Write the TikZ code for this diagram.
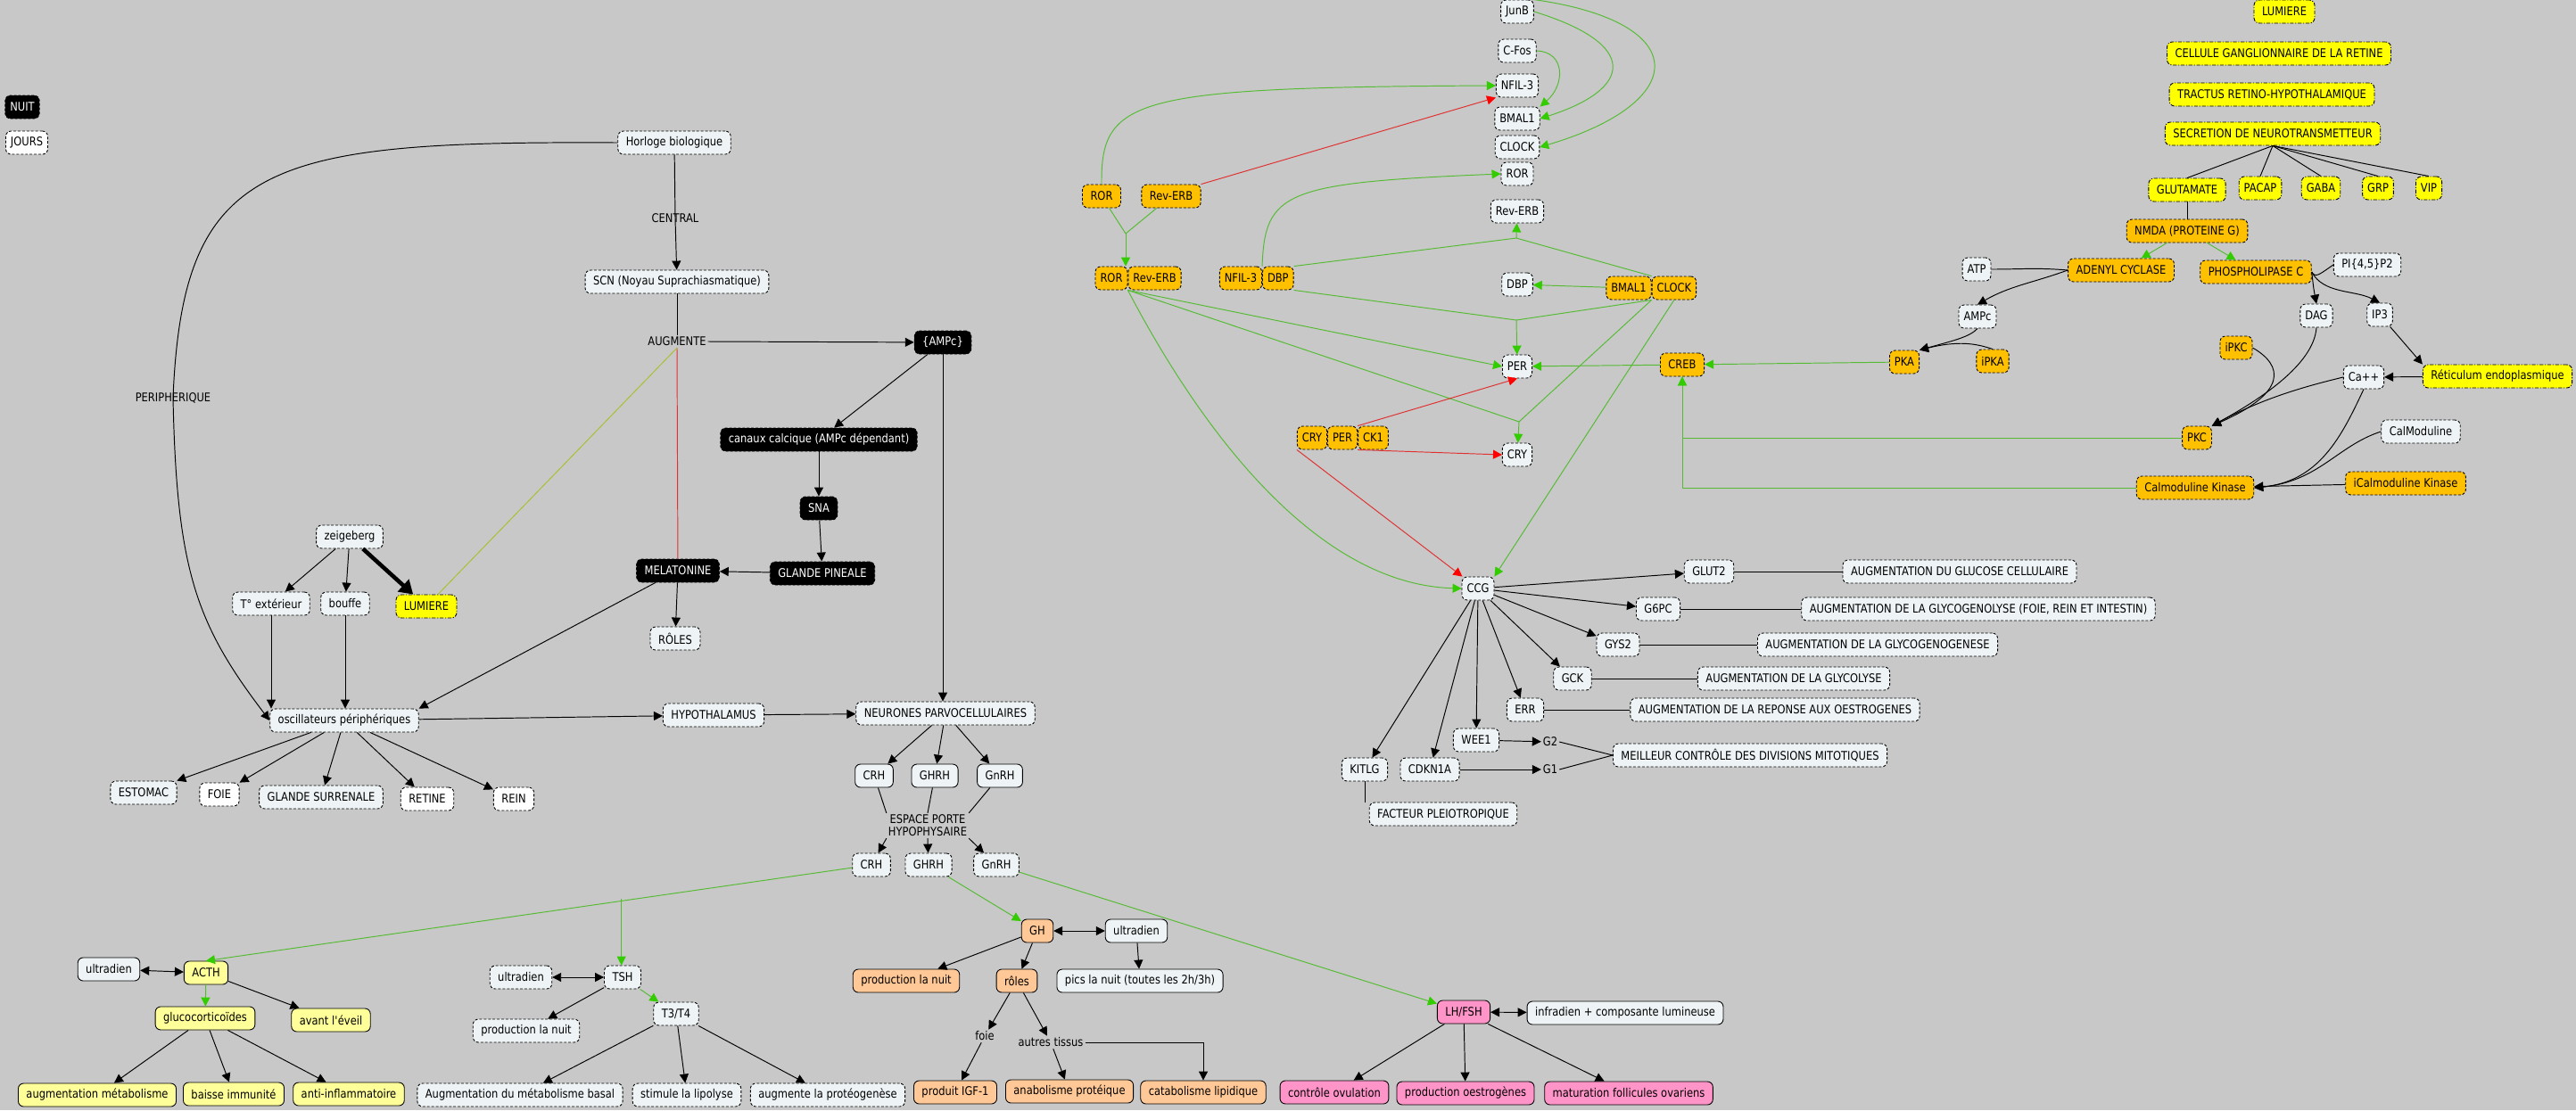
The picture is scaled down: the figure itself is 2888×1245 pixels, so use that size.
\documentclass[tikz,border=0pt]{standalone}
\usepackage{fontspec}
\setmainfont{DejaVu Sans}[FakeStretch=0.86]
\usetikzlibrary{arrows.meta, positioning, calc}
\definecolor{mapGray}{HTML}{C8C8C8}
\definecolor{mapWhite}{HTML}{EEF3F5}
\definecolor{mapYellow}{HTML}{FFFF00}
\definecolor{mapOrange}{HTML}{FFC000}
\definecolor{mapPale}{HTML}{FFFF99}
\definecolor{mapPeach}{HTML}{FFC896}
\definecolor{mapPink}{HTML}{FF94C8}
\definecolor{lineGreen}{HTML}{55BB33}
\definecolor{tipGreen}{HTML}{33CC00}
\definecolor{lineRed}{HTML}{E03030}
\definecolor{tipRed}{HTML}{FF0000}
\definecolor{lineYG}{HTML}{A8C030}
\tikzset{
  boxW/.style={rectangle, rounded corners=0.12cm, draw=black, line width=0.5pt,
               fill=mapWhite, dash pattern=on 1.7pt off 1.1pt,
               minimum height=0.52cm, inner xsep=0.18cm, inner ysep=0pt},
  boxK/.style={boxW, fill=black, text=white},
  boxY/.style={boxW, fill=mapYellow, dash pattern=on 2.4pt off 1pt on 0.6pt off 1pt},
  boxO/.style={boxW, fill=mapOrange},
  boxS/.style={boxW, solid},
  boxPale/.style={boxS, fill=mapPale},
  boxPeach/.style={boxS, fill=mapPeach},
  boxPink/.style={boxS, fill=mapPink},
  tight/.style={inner xsep=0.11cm},
  lbl/.style={inner sep=1pt},
  arrowK/.style={-{Triangle[length=2mm,width=2mm]}, line width=0.55pt},
  arrowD/.style={{Triangle[length=2mm,width=2mm]}-{Triangle[length=2mm,width=2mm]},
                 line width=0.55pt},
  arrowG/.style={-{Triangle[length=2mm,width=2mm,color=tipGreen]}, draw=lineGreen,
                 line width=0.55pt},
  arrowR/.style={-{Triangle[length=2mm,width=2mm,color=tipRed]}, draw=lineRed,
                 line width=0.55pt},
  lineK/.style={line width=0.55pt},
  lineG/.style={draw=lineGreen, line width=0.55pt},
  lineR/.style={draw=lineRed, line width=0.55pt},
  lineY/.style={draw=lineYG, line width=0.55pt},
}
\begin{document}
\begin{tikzpicture}[x=0.02cm, y=-0.02cm, font=\fontsize{7.6}{8.4}\selectfont]
    \fill[mapGray] (0,0) rectangle (2888,1245);
    \useasboundingbox (0,0) rectangle (2888,1245);
    % legende
    \node[boxK, tight] (nuit) at (25,120) {NUIT};
    \node[boxW, tight, fill=white] (jours) at (30,160) {JOURS};
    % horloge centrale
    \node[boxW] (horloge) at (756,160) {Horloge biologique};
    \node[boxW] (scn) at (759,316) {SCN (Noyau Suprachiasmatique)};
    \node[lbl] (central) at (757,245) {CENTRAL};
    \node[lbl] (augm) at (759,383) {AUGMENTE};
    \node[lbl] (periph) at (194,446) {PERIPHERIQUE};
    \node[boxK] (ampc) at (1057,384) {\{AMPc\}};
    \node[boxK] (canaux) at (918,493) {canaux calcique (AMPc dépendant)};
    \node[boxK] (sna) at (918,570) {SNA};
    \node[boxK] (pineale) at (922,643) {GLANDE PINEALE};
    \node[boxK] (melat) at (760,640) {MELATONINE};
    \node[boxW] (roles) at (757,716) {RÔLES};
    % horloges peripheriques
    \node[boxW] (zeig) at (392,602) {zeigeberg};
    \node[boxW] (temp) at (304,677) {T° extérieur};
    \node[boxW] (bouffe) at (387,677) {bouffe};
    \node[boxY] (lumL) at (478,680) {LUMIERE};
    \node[boxW] (oscP) at (386,808) {oscillateurs périphériques};
    \foreach \n/\x/\y/\t/\f in {estomac/161/889/ESTOMAC/mapWhite, foie/246/891/FOIE/white,
        surren/360/894/GLANDE SURRENALE/mapWhite, retine/479/896/RETINE/white, rein/576/896/REIN/white} {
      \node[boxW, fill=\f] (\n) at (\x,\y) {\t};
    }
    \node[boxW] (hypo) at (800,802) {HYPOTHALAMUS};
    \node[boxW] (parvo) at (1060,800) {NEURONES PARVOCELLULAIRES};
    % neurohormones
    \foreach \n/\x/\t in {crhA/980/CRH, ghrhA/1048/GHRH, gnrhA/1121/GnRH} {
      \node[boxS] (\n) at (\x,870) {\t};
    }
    \node[lbl, align=center, font=\fontsize{7.6}{8}\selectfont] (espace) at (1040,926) {ESPACE PORTE\\HYPOPHYSAIRE};
    \foreach \n/\x/\t in {crhB/977/CRH, ghrhB/1041/GHRH, gnrhB/1117/GnRH} {
      \node[boxW] (\n) at (\x,970) {\t};
    }
    % axe corticotrope
    \node[boxPale] (acth) at (231,1091) {ACTH};
    \node[boxS] (ultraA) at (122,1087) {ultradien};
    \node[boxPale] (gluco) at (230,1142) {glucocorticoïdes};
    \node[boxPale] (eveil) at (371,1144) {avant l\textquotesingle éveil};
    \node[boxPale] (augMet) at (109,1228) {augmentation métabolisme};
    \node[boxPale] (immun) at (262,1227) {baisse immunité};
    \node[boxPale] (antiInf) at (391,1227) {anti-inflammatoire};
    % axe thyreotrope
    \node[boxW] (tsh) at (698,1096) {TSH};
    \node[boxW] (ultraT) at (584,1096) {ultradien};
    \node[boxW] (nuitT) at (590,1156) {production la nuit};
    \node[boxW] (t3t4) at (758,1137) {T3/T4};
    \node[boxW] (metBasal) at (583,1228) {Augmentation du métabolisme basal};
    \node[boxW] (lipo) at (770,1228) {stimule la lipolyse};
    \node[boxW] (proteo) at (928,1228) {augmente la protéogenèse};
    % axe somatotrope
    \node[boxPeach] (gh) at (1163,1044) {GH};
    \node[boxS] (ultraG) at (1274,1044) {ultradien};
    \node[boxS] (pics) at (1278,1100) {pics la nuit (toutes les 2h/3h)};
    \node[boxPeach] (nuitG) at (1016,1100) {production la nuit};
    \node[boxPeach] (rolesG) at (1140,1100) {rôles};
    \node[lbl] (foieL) at (1104,1162) {foie};
    \node[lbl] (autres) at (1178,1169) {autres tissus};
    \node[boxPeach] (igf) at (1071,1225) {produit IGF-1};
    \node[boxPeach] (anab) at (1199,1224) {anabolisme protéique};
    \node[boxPeach] (catab) at (1349,1225) {catabolisme lipidique};
    % axe gonadotrope
    \node[boxPink] (lhfsh) at (1641,1135) {LH/FSH};
    \node[boxS] (infra) at (1822,1136) {infradien + composante lumineuse};
    \node[boxPink] (ovul) at (1496,1225) {contrôle ovulation};
    \node[boxPink] (oestro) at (1643,1226) {production oestrogènes};
    \node[boxPink] (follic) at (1826,1226) {maturation follicules ovariens};
    % genes horloge
    \node[boxO] (ror1) at (1235,220) {ROR};
    \node[boxO] (reverb1) at (1313,220) {Rev-ERB};
    \node[boxO, tight] (ror2) at (1246,312) {ROR};
    \node[boxO, tight, right=0pt of ror2] (reverb2) {Rev-ERB};
    \node[boxO, tight] (nfil2) at (1391,312) {NFIL-3};
    \node[boxO, tight, right=0pt of nfil2] (dbp2) {DBP};
    \foreach \n/\y/\t in {junb/13/JunB, cfos/57/C-Fos, nfilW/96/NFIL-3, bmalW/133/BMAL1,
        clockW/165/CLOCK, rorW/195/ROR, reverbW/237/Rev-ERB, dbpW/319/DBP, perW/411/PER, cryW/510/CRY} {
      \node[boxW, tight] (\n) at (1701,\y) {\t};
    }
    \node[boxO, tight] (bmal2) at (1826,323) {BMAL1};
    \node[boxO, tight, right=0pt of bmal2] (clock2) {CLOCK};
    \node[boxO] (creb) at (1886,409) {CREB};
    \node[boxO, tight] (pka) at (2135,406) {PKA};
    \node[boxO, tight] (ipka) at (2234,405) {iPKA};
    \node[boxO, tight] (cry3) at (1471,491) {CRY};
    \node[boxO, tight, right=0pt of cry3] (per3) {PER};
    \node[boxO, tight, right=0pt of per3] (ck1) {CK1};
    % genes controles
    \node[boxW, tight] (ccg) at (1657,660) {CCG};
    \node[boxW] (glut2) at (1916,641) {GLUT2};
    \node[boxW] (g6pc) at (1859,683) {G6PC};
    \node[boxW] (gys2) at (1814,723) {GYS2};
    \node[boxW] (gck) at (1763,761) {GCK};
    \node[boxW] (err) at (1710,796) {ERR};
    \node[boxW] (wee1) at (1655,830) {WEE1};
    \node[boxW] (cdkn) at (1603,863) {CDKN1A};
    \node[boxW] (kitlg) at (1530,863) {KITLG};
    \node[lbl] (g2) at (1738,832) {G2};
    \node[lbl] (g1) at (1738,863) {G1};
    \node[boxW] (mitose) at (1962,847) {MEILLEUR CONTRÔLE DES DIVISIONS MITOTIQUES};
    \node[boxW] (pleio) at (1618,913) {FACTEUR PLEIOTROPIQUE};
    \node[boxW] (augGlu) at (2197,641) {AUGMENTATION DU GLUCOSE CELLULAIRE};
    \node[boxW] (augGlyco) at (2218,683) {AUGMENTATION DE LA GLYCOGENOLYSE (FOIE, REIN ET INTESTIN)};
    \node[boxW] (augGlycoGen) at (2105,723) {AUGMENTATION DE LA GLYCOGENOGENESE};
    \node[boxW] (augGlycol) at (2011,761) {AUGMENTATION DE LA GLYCOLYSE};
    \node[boxW] (augOestro) at (1990,796) {AUGMENTATION DE LA REPONSE AUX OESTROGENES};
    % voie lumineuse
    \node[boxY] (lumR) at (2561,13) {LUMIERE};
    \node[boxY] (cellule) at (2555,60) {CELLULE GANGLIONNAIRE DE LA RETINE};
    \node[boxY] (tractus) at (2547,106) {TRACTUS RETINO-HYPOTHALAMIQUE};
    \node[boxY] (secretion) at (2548,150) {SECRETION DE NEUROTRANSMETTEUR};
    \node[boxY] (gluta) at (2452,213) {GLUTAMATE};
    \foreach \n/\x/\t in {pacap/2534/PACAP, gaba/2602/GABA, grp/2666/GRP, vip/2723/VIP} {
      \node[boxY, tight] (\n) at (\x,211) {\t};
    }
    \node[boxO] (nmda) at (2452,259) {NMDA (PROTEINE G)};
    \node[boxO] (adc) at (2378,303) {ADENYL CYCLASE};
    \node[boxO] (plc) at (2529,305) {PHOSPHOLIPASE C};
    \node[boxW, tight] (atp) at (2216,302) {ATP};
    \node[boxW, tight] (ampcR) at (2217,355) {AMPc};
    \node[boxW] (pip2) at (2654,297) {PI\{4,5\}P2};
    \node[boxW, tight] (dag) at (2597,354) {DAG};
    \node[boxW, tight] (ip3) at (2668,353) {IP3};
    \node[boxO, tight] (ipkc) at (2507,390) {iPKC};
    \node[boxY] (reti) at (2800,422) {Réticulum endoplasmique};
    \node[boxW, tight] (ca) at (2650,423) {Ca++};
    \node[boxO, tight] (pkc) at (2463,491) {PKC};
    \node[boxW] (calmod) at (2714,484) {CalModuline};
    \node[boxO] (camk) at (2461,547) {Calmoduline Kinase};
    \node[boxO] (icamk) at (2697,542) {iCalmoduline Kinase};

    % liens horloge centrale
    \draw[arrowK] (horloge) -- (central.center) -- (scn);
    \draw[lineK] (scn) -- (augm.north);
    \draw[arrowK] (augm.east) -- (ampc);
    \draw[lineR] (augm.south) -- (melat);
    \draw[lineY] (augm.south) -- (lumL);
    \draw[arrowK] (horloge.west) .. controls (300,158) and (205,180) .. (periph.center)
      .. controls (198,640) and (220,700) .. (oscP.west);
    \draw[arrowK] (ampc) -- (canaux);
    \draw[arrowK] (ampc.south) -- (ampc.south |- parvo.north);
    \draw[arrowK] (canaux) -- (sna);
    \draw[arrowK] (sna) -- (pineale);
    \draw[arrowK] (pineale) -- (melat);
    \draw[arrowK] (melat) -- (roles);
    \draw[arrowK] (melat) -- (oscP.north east);
    % liens peripherie
    \draw[arrowK] (zeig) -- (temp);
    \draw[arrowK] (zeig) -- (bouffe);
    \draw[-{Triangle[length=3mm,width=3.6mm]}, line width=2.6pt] (zeig) -- (lumL);
    \draw[arrowK] (temp.south) -- (temp.south |- oscP.north);
    \draw[arrowK] (bouffe.south) -- (bouffe.south |- oscP.north);
    \foreach \n in {estomac, foie, surren, retine, rein} { \draw[arrowK] (oscP) -- (\n); }
    \draw[arrowK] (oscP) -- (hypo);
    \draw[arrowK] (hypo) -- (parvo);
    \foreach \n in {crhA, ghrhA, gnrhA} { \draw[arrowK] (parvo) -- (\n); }
    \draw[lineK] (crhA) -- (espace.north west);
    \draw[lineK] (ghrhA) -- (espace.north);
    \draw[lineK] (gnrhA) -- (espace.north east);
    \draw[arrowK] (espace.south west) -- (crhB);
    \draw[arrowK] (espace.south) -- (ghrhB);
    \draw[arrowK] (espace.south east) -- (gnrhB);
    % hormones hypophysaires
    \draw[arrowG] (crhB) -- (acth.north);
    \path (crhB.west) -- (acth.north) coordinate[pos=0.357] (jtsh);
    \draw[arrowG] (jtsh) -- (jtsh |- tsh.north);
    \draw[arrowD] (ultraA) -- (acth);
    \draw[arrowG] (acth) -- (gluco);
    \draw[arrowK] (acth) -- (eveil);
    \foreach \n in {augMet, immun, antiInf} { \draw[arrowK] (gluco) -- (\n); }
    \draw[arrowD] (ultraT) -- (tsh);
    \draw[arrowK] (tsh) -- (nuitT);
    \draw[arrowG] (tsh) -- (t3t4);
    \foreach \n in {metBasal, lipo, proteo} { \draw[arrowK] (t3t4) -- (\n); }
    \draw[arrowG] (ghrhB) -- (gh);
    \draw[arrowD] (gh) -- (ultraG);
    \draw[arrowK] (ultraG) -- (pics);
    \draw[arrowK] (gh) -- (nuitG);
    \draw[arrowK] (gh) -- (rolesG);
    \draw[arrowK] (rolesG) -- (foieL);
    \draw[arrowK] (foieL) -- (igf);
    \draw[arrowK] (rolesG) -- (autres);
    \draw[arrowK] (autres) -- (anab);
    \draw[arrowK] (autres.east) -| (catab.north);
    \draw[arrowG] (gnrhB) -- (lhfsh);
    \draw[arrowD] (lhfsh) -- (infra);
    \foreach \n in {ovul, oestro, follic} { \draw[arrowK] (lhfsh) -- (\n); }
    % boucles genes horloge
    \coordinate (jror) at (1262,262);
    \coordinate (jrev) at (1700,267);
    \coordinate (jper) at (1700,359);
    \coordinate (jcry) at (1703,473);
    \draw[lineG] (ror1) -- (jror);
    \draw[lineG] (reverb1) -- (jror);
    \draw[arrowG] (jror) -- (jror |- ror2.north);
    \draw[arrowG] (ror1.north) .. controls (1234,110) and (1270,98) .. (nfilW.west);
    \draw[arrowR] (reverb1.north east) -- (nfilW.south west);
    \draw[arrowG] (junb.east) .. controls (1840,50) and (1830,100) .. (bmalW.east);
    \draw[arrowG] (junb.north east) .. controls (1900,25) and (1895,115) .. (clockW.east);
    \draw[arrowG] (cfos.east) .. controls (1755,58) and (1755,95) .. (bmalW.north east);
    \draw[arrowG] (dbp2.north west) .. controls (1418,215) and (1440,205) .. (rorW.west);
    \draw[lineG] (dbp2.north east) -- (jrev);
    \draw[lineG] (bmal2.north east) -- (jrev);
    \draw[arrowG] (jrev) -- (reverbW);
    \draw[lineG] (dbp2.south east) -- (jper);
    \draw[lineG] (bmal2.south east) -- (jper);
    \draw[arrowG] (jper) -- (perW);
    \draw[arrowG] (bmal2) -- (dbpW);
    \draw[arrowG] (reverb2.south west) -- (perW.west);
    \draw[lineG] (reverb2.south west) -- (jcry);
    \draw[lineG] (clock2.south west) -- (jcry);
    \draw[arrowG] (jcry) -- (cryW);
    \draw[arrowG] (clock2.south) -- (ccg.north east);
    \draw[arrowG] (reverb2.south west) .. controls (1340,470) and (1470,655) .. (ccg.west);
    \draw[arrowG] (creb) -- (perW);
    \draw[arrowG] (pka) -- (creb);
    \draw[arrowG] (pkc.west) -| (creb.south);
    \draw[arrowG] (camk.west) -| (creb.south);
    \draw[arrowR] (ck1.north west) -- (perW.south);
    \draw[arrowR] (ck1.south west) -- (cryW.west);
    \draw[arrowR] (cry3.south west) -- (ccg);
    % cibles CCG
    \foreach \n in {glut2, g6pc, gys2, gck, err, wee1, cdkn, kitlg} { \draw[arrowK] (ccg) -- (\n); }
    \draw[lineK] (glut2) -- (augGlu);
    \draw[lineK] (g6pc) -- (augGlyco);
    \draw[lineK] (gys2) -- (augGlycoGen);
    \draw[lineK] (gck) -- (augGlycol);
    \draw[lineK] (err) -- (augOestro);
    \draw[arrowK] (wee1) -- (g2);
    \draw[arrowK] (cdkn) -- (g1);
    \draw[lineK] (g2.east) -- (mitose.west);
    \draw[lineK] (g1.east) -- (mitose.west);
    \draw[lineK] (kitlg.south) -- (kitlg.south |- pleio.north);
    % cascade lumiere
    \foreach \n in {gluta, pacap, gaba, grp, vip} { \draw[lineK] (secretion.south) -- (\n.north); }
    \draw[lineK] (gluta) -- (nmda);
    \draw[arrowG] (nmda) -- (adc);
    \draw[arrowG] (nmda) -- (plc);
    \draw[lineK] (atp.east) to[out=0, in=175] (adc.west);
    \draw[arrowK] (adc.west) to[out=200, in=30] (ampcR.north);
    \draw[arrowK] (ampcR.south) .. controls (2208,378) and (2190,382) .. (pka.north east);
    \draw[arrowK] (ipka.north) .. controls (2215,385) and (2195,382) .. (pka.north east);
    \draw[lineK] (pip2.west) .. controls (2600,308) and (2596,312) .. (plc.east);
    \draw[arrowK] (plc.east) .. controls (2594,325) .. (dag.north);
    \draw[arrowK] (plc.east) .. controls (2605,330) and (2640,325) .. (ip3.north);
    \draw[arrowK] (ip3) -- (reti.north west);
    \draw[arrowK] (reti) -- (ca);
    \draw[arrowK] (dag.south) .. controls (2594,410) and (2530,450) .. (pkc.north east);
    \draw[arrowK] (ipkc.east) .. controls (2560,410) and (2565,440) .. (pkc.north east);
    \draw[arrowK] (ca.west) .. controls (2590,432) and (2540,445) .. (pkc.north east);
    \draw[arrowK] (ca.south) .. controls (2625,490) and (2600,540) .. (camk.east);
    \draw[arrowK] (calmod.west) .. controls (2620,500) and (2600,540) .. (camk.east);
    \draw[arrowK] (icamk) -- (camk);
\end{tikzpicture}
\end{document}
